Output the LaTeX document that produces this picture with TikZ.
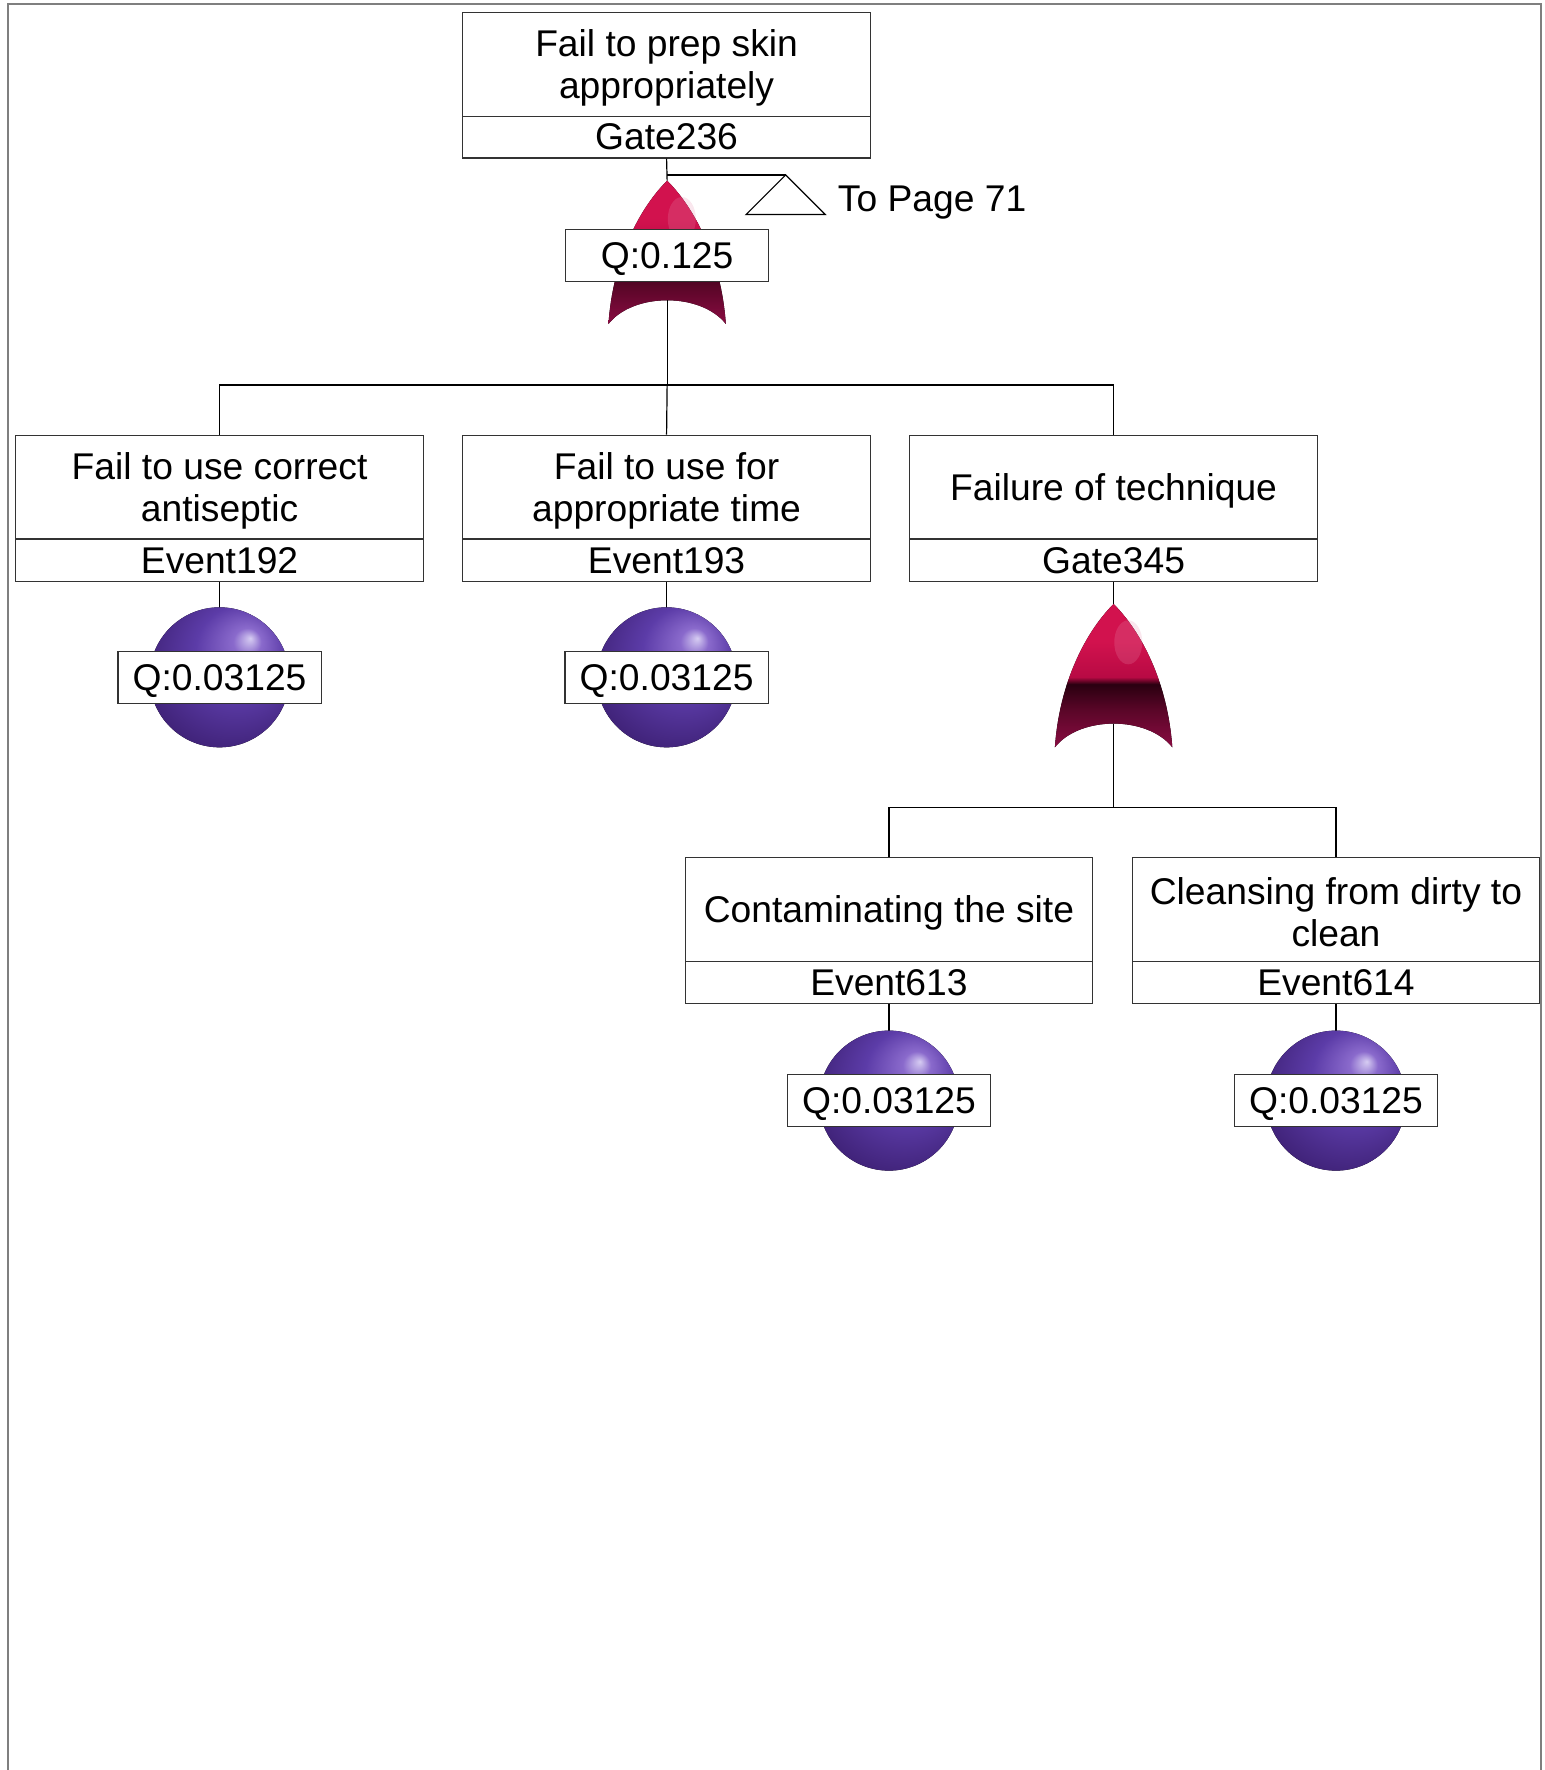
\documentclass[tikz,border=0pt]{standalone}
\usepackage{fontspec}
\setmainfont{Liberation Sans}
\definecolor{gd1}{HTML}{8A0C42}
\definecolor{gd2}{HTML}{5A0628}
\definecolor{gd3}{HTML}{2A0010}
\definecolor{gr1}{HTML}{B80A44}
\definecolor{gr2}{HTML}{D2124E}
\definecolor{ghl}{HTML}{E890B0}
\definecolor{pl1}{HTML}{D6CCF2}
\definecolor{pl2}{HTML}{8A6ACC}
\definecolor{pl3}{HTML}{5C3CA8}
\definecolor{pl4}{HTML}{3C1F72}
\definecolor{framegray}{HTML}{7F7F7F}
\pgfdeclareverticalshading{gateshade}{100bp}{color(0bp)=(gd1); color(25bp)=(gd1); color(38bp)=(gd2); color(47bp)=(gd3); color(49.5bp)=(gr1); color(62bp)=(gr2); color(100bp)=(gr2)}
\pgfdeclareradialshading{purpleball}{\pgfpoint{11bp}{14bp}}{color(0bp)=(pl1); color(5bp)=(pl2); color(16bp)=(pl3); color(34bp)=(pl4); color(50bp)=(pl4)}
\newcommand\fsz{\fontsize{18.6pt}{21pt}\selectfont}
\newcommand\orgate[1]{%
  \begin{scope}[shift={(#1)}]
    \fill[shading=gateshade] (0,0) .. controls (25,25) and (48,70) .. (52,127)
      .. controls (30,99) and (-30,99) .. (-52,127)
      .. controls (-48,70) and (-25,25) .. (0,0) -- cycle;
    \fill[ghl, opacity=0.22] (13,34) ellipse[x radius=7pt, y radius=11pt];
  \end{scope}}
\newcommand\ball[1]{\fill[shading=purpleball] (#1) circle[radius=35pt];}
\newcommand\lowstrut{\rule{0pt}{16.8pt}}
\tikzset{
  desc/.style={draw=black!80, line width=0.6pt, minimum width=203.7pt, minimum height=51.9pt, align=center, inner sep=0pt, font=\fsz},
  ident/.style={draw=black!80, line width=0.6pt, minimum width=203.7pt, minimum height=20.9pt, inner sep=0pt, font=\fsz},
  qbox/.style={draw=black!80, line width=0.6pt, fill=white, minimum width=101.6pt, minimum height=26pt, inner sep=0pt, font=\fsz, execute at begin node=\lowstrut},
  conn/.style={draw=black, line width=0.6pt}
}
\begin{document}
\begin{tikzpicture}[x=0.5643pt,y=-0.5643pt]
\useasboundingbox (0,0) rectangle (1368,1568);
% frame
\draw[framegray, line width=1pt] (7,1568) -- (7,3.8) -- (1365,3.8) -- (1365,1568);

% top gate
\node[desc] (d236) at (590.5,57) {\lowstrut Fail to prep skin\\appropriately};
\node[ident] (i236) at (590.5,121.5) {Gate236};
\coordinate (g1top) at (591,160);
\coordinate (g1bot) at (591,266);
\coordinate (tj) at (591,155);
\coordinate (tp) at (696,155);
\orgate{g1top}
\draw[conn] (i236.south) -- (g1top);
\draw[conn] (tj) -- (tp);
\draw[conn] (tp) -- ++(-35,35) -- ++(70,0) -- cycle;
\node[anchor=west, inner sep=0pt, font=\fsz] (topage) at (742,179) {To Page 71};
\node[qbox] (q236) at (591,226) {Q:0.125};
\coordinate (bus1) at (591,341);
\draw[conn] (g1bot) -- (bus1);

% row 2
\node[desc] (d192) at (194.5,431.5) {\lowstrut Fail to use correct\\antiseptic};
\node[ident] (i192) at (194.5,496.5) {Event192};
\node[desc] (d193) at (590.5,431.5) {\lowstrut Fail to use for\\appropriate time};
\node[ident] (i193) at (590.5,496.5) {Event193};
\node[desc] (d345) at (986.5,431.5) {\lowstrut Failure of technique};
\node[ident] (i345) at (986.5,496.5) {Gate345};
\draw[conn] (bus1) -| (d192.north);
\draw[conn] (bus1) -| (d345.north);
\draw[conn] (bus1) -- (d193.north);

% events 192, 193
\coordinate (b192) at (194.5,600);
\coordinate (b193) at (590.5,600);
\draw[conn] (i192.south) -- ++(0,25);
\draw[conn] (i193.south) -- ++(0,25);
\ball{b192}
\ball{b193}
\node[qbox] (q192) at (b192) {Q:0.03125};
\node[qbox] (q193) at (b193) {Q:0.03125};

% gate 345
\coordinate (g2top) at (986.5,535);
\coordinate (g2bot) at (986.5,641);
\draw[conn] (i345.south) -- (g2top);
\orgate{g2top}
\coordinate (bus2) at (986.5,715);
\draw[conn] (g2bot) -- (bus2);

% row 3
\node[desc] (d613) at (787.5,805.5) {\lowstrut Contaminating the site};
\node[ident] (i613) at (787.5,870.5) {Event613};
\node[desc] (d614) at (1183.5,805.5) {\lowstrut Cleansing from dirty to\\clean};
\node[ident] (i614) at (1183.5,870.5) {Event614};
\draw[conn] (bus2) -| (d613.north);
\draw[conn] (bus2) -| (d614.north);

\coordinate (b613) at (787.5,975);
\coordinate (b614) at (1183.5,975);
\draw[conn] (i613.south) -- ++(0,25);
\draw[conn] (i614.south) -- ++(0,25);
\ball{b613}
\ball{b614}
\node[qbox] (q613) at (b613) {Q:0.03125};
\node[qbox] (q614) at (b614) {Q:0.03125};
\end{tikzpicture}
\end{document}
